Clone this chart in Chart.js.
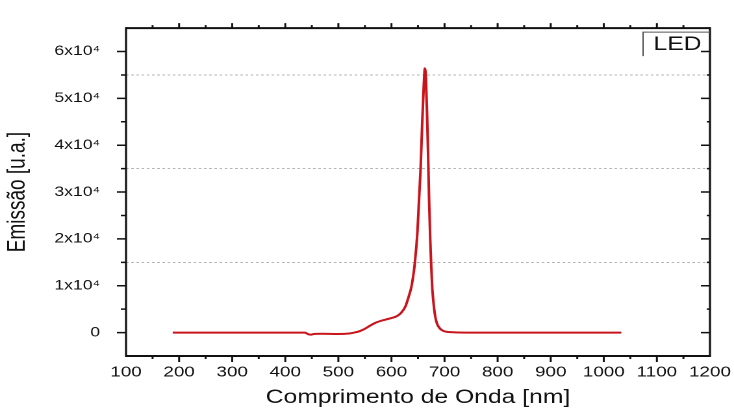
<!DOCTYPE html>
<html>
<head>
<meta charset="utf-8">
<script src="https://cdn.jsdelivr.net/npm/chart.js@4.4.1/dist/chart.umd.min.js"></script>
<style>
    body { margin: 0; background: #fff; overflow: hidden; }
    /* the original picture is stretched sideways, so draw narrow and widen it */
    #wrap {
        position: absolute; left: 0; top: 0;
        width: 565px; height: 412px;
        transform: scaleX(1.2991); transform-origin: 0 0;
    }
</style>
</head>
<body>
<div id="wrap"><canvas id="spectrumChart"></canvas></div>
<script>
// --- data ---
const wavelength = [188, 250, 300, 350, 400, 437, 443, 448, 454, 470, 500, 520, 530, 540, 550,
    560, 570, 580, 590, 600, 610, 618, 626, 632, 638, 644, 649, 652, 655, 658, 661, 663,
    665, 667, 669, 671, 673, 675, 677, 680, 684, 689, 696, 705, 720, 750, 800, 900, 1000, 1033];
const emission = [0, 0, 0, 0, 0, 0, -350, -450, -300, -250, -300, -200, 0, 300, 800,
    1500, 2100, 2500, 2800, 3100, 3500, 4200, 5500, 7500, 10000, 14800, 21600, 28500, 35200, 45000, 53000, 56400,
    54000, 47000, 38000, 28000, 20000, 14000, 9300, 5500, 2600, 1200, 450, 150, 50, 0, 0, 0, 0, 0];
const seriesLabel = "LED";
const yTickValues = [0, 10000, 20000, 30000, 40000, 50000, 60000];
const yGridValues = [15000, 35000, 55000];

const FONT = "'Liberation Sans', Arial, sans-serif";

// frame, tick marks and the little legend box, drawn from the scales
const framePlugin = {
    id: "frame",
    afterDraw(chart) {
        const { ctx, chartArea: a, scales } = chart;
        const x = scales.x, y = scales.y;
        ctx.save();
        ctx.strokeStyle = "#111";
        // vertical sides are widened by the stretch, keep them a bit thinner
        ctx.lineWidth = 1.6;
        ctx.beginPath();
        ctx.moveTo(a.left, a.top - 1); ctx.lineTo(a.left, a.bottom + 1);
        ctx.moveTo(a.right, a.top - 1); ctx.lineTo(a.right, a.bottom + 1);
        ctx.stroke();
        ctx.lineWidth = 2;
        ctx.beginPath();
        ctx.moveTo(a.left, a.top); ctx.lineTo(a.right, a.top);
        ctx.moveTo(a.left, a.bottom); ctx.lineTo(a.right, a.bottom);
        ctx.stroke();

        // x ticks: bottom out, top out
        ctx.lineWidth = 1.5;
        ctx.beginPath();
        for (let v = x.min + 50; v < x.max; v += 50) {
            const px = x.getPixelForValue(v);
            const major = v % 100 === 0;
            ctx.moveTo(px, a.bottom); ctx.lineTo(px, a.bottom + (major ? 6 : 3));
            ctx.moveTo(px, a.top); ctx.lineTo(px, a.top - (major ? 5 : 3));
        }
        // y ticks: left out, right in
        for (let v = 0; v < y.max; v += 5000) {
            const py = y.getPixelForValue(v);
            const major = v % 10000 === 0;
            ctx.moveTo(a.left, py); ctx.lineTo(a.left - (major ? 7 : 4), py);
            ctx.moveTo(a.right, py); ctx.lineTo(a.right - (major ? 7 : 2.5), py);
        }
        ctx.stroke();

        // legend box
        const bx = a.right - 51.5, by = a.top + 4;
        ctx.strokeStyle = "#555";
        ctx.lineWidth = 1;
        ctx.beginPath();
        ctx.moveTo(bx, by + 24); ctx.lineTo(bx, by); ctx.lineTo(a.right, by);
        ctx.stroke();
        ctx.fillStyle = "#111";
        ctx.font = "19px " + FONT;
        ctx.textBaseline = "middle";
        ctx.fillText(chart.data.datasets[0].label, bx + 8, by + 12.5);
        ctx.restore();
    },
};

const ctxSpectrum = document.getElementById("spectrumChart");
new Chart(ctxSpectrum, {
    type: "line",
    data: {
        datasets: [
            {
                label: seriesLabel,
                data: wavelength.map((w, i) => ({ x: w, y: emission[i] })),
                borderColor: "#c8141c",
                borderWidth: 2,
                pointRadius: 0,
                cubicInterpolationMode: "monotone",
            },
        ],
    },
    options: {
        responsive: true,
        maintainAspectRatio: false,
        animation: false,
        devicePixelRatio: 2,
        layout: { padding: { top: 14, right: 18.5, left: 0, bottom: 0 } },
        plugins: { legend: { display: false }, tooltip: { enabled: false } },
        scales: {
            x: {
                type: "linear",
                min: 100,
                max: 1200,
                afterFit: (s) => {
                    s.height = 56;
                    s.paddingLeft = 0;
                    s.paddingRight = 0;
                },
                grid: { display: false, drawTicks: false },
                border: { display: false },
                ticks: {
                    stepSize: 100,
                    padding: 8,
                    maxRotation: 0,
                    autoSkip: false,
                    color: "#111",
                    font: { family: FONT, size: 14.5 },
                    callback: (v) => String(v),
                },
                title: {
                    display: true,
                    text: "Comprimento de Onda [nm]",
                    color: "#111",
                    font: { family: FONT, size: 19 },
                    padding: { top: 0, bottom: 3 },
                },
            },
            y: {
                min: -5000,
                max: 65000,
                afterFit: (s) => { s.width = 97; },
                afterBuildTicks: (s) => {
                    s.ticks = yTickValues.concat(yGridValues).map((v) => ({ value: v }));
                },
                grid: {
                    drawTicks: false,
                    lineWidth: 1,
                    color: (c) => (c.tick && yGridValues.includes(c.tick.value) ? "#b5b5b5" : "rgba(0,0,0,0)"),
                },
                border: { display: false, dash: [2, 2] },
                ticks: {
                    padding: 20,
                    color: "#111",
                    font: { family: FONT, size: 13.5 },
                    callback: (v) => (v === 0 ? "0" : v % 10000 === 0 ? v / 10000 + "x10\u2074" : ""),
                },
                title: {
                    display: true,
                    text: "Emissão [u.a.]",
                    color: "#111",
                    font: { family: FONT, size: 19 },
                    padding: { top: 2.5, bottom: 0 },
                },
            },
        },
    },
    plugins: [framePlugin],
});
</script>
</body>
</html>
